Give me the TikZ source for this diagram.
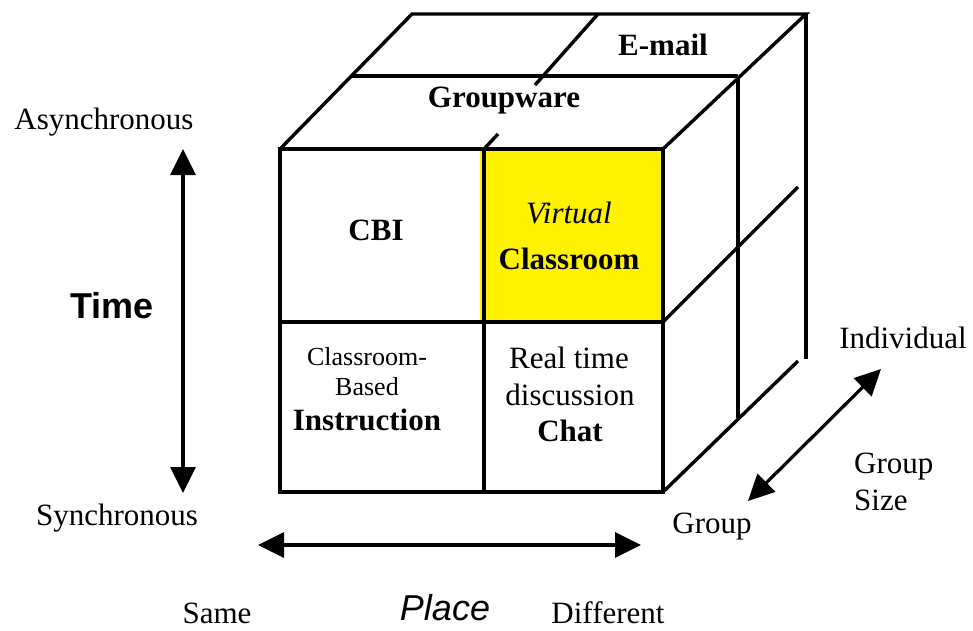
\documentclass[tikz,border=0pt]{standalone}
\usepackage{fontspec}
\setmainfont{Liberation Serif}
\newfontfamily\arialfont{Liberation Sans}
\usetikzlibrary{arrows.meta}
\begin{document}
\begin{tikzpicture}[x=1pt,y=-1pt,
  cubeline/.style={line width=3.4pt},
  axisarrow/.style={line width=3.2pt, {Triangle[length=26pt,width=25pt]}-{Triangle[length=26pt,width=25pt]}},
  lbl/.style={inner sep=0pt, anchor=base, font=\fontsize{31}{34}\selectfont},
  small/.style={inner sep=0pt, anchor=base, font=\fontsize{26}{28}\selectfont},
  axisname/.style={inner sep=0pt, anchor=base, font=\arialfont\fontsize{36}{40}\selectfont}]
\useasboundingbox (0,0) rectangle (973,630);
% corners
\coordinate (F1) at (280,149);
\coordinate (F2) at (663,149);
\coordinate (F3) at (663,492);
\coordinate (F4) at (280,492);
\coordinate (FMt) at (484,149);
\coordinate (FMb) at (484,492);
\coordinate (ML) at (280,322);
\coordinate (MR) at (663,322);
\coordinate (B1) at (412,14);
\coordinate (B2) at (806,14);
\coordinate (B3) at (806,359);
\coordinate (T1) at (351,76);
\coordinate (T2) at (738,76);
\coordinate (C1) at (598,14);
\coordinate (C2) at (535,85);
\coordinate (C3) at (498,134);
\coordinate (V1) at (738,418);
\coordinate (D1) at (798,187);
\coordinate (D2) at (798,361);
% yellow cell
\fill[yellow] (480,149) rectangle (MR);
% front face
\draw[cubeline] (F1) rectangle (F3);
\draw[cubeline] (FMt) -- (FMb);
\draw[cubeline] (ML) -- (MR);
% top face
\draw[cubeline] (F1) -- (B1) -- (B2) -- (F2);
\draw[cubeline] (T1) -- (T2);
\draw[cubeline] (C1) -- (C2);
\draw[cubeline] (C3) -- (FMt);
% right face
\draw[cubeline] (B2) -- (B3);
\draw[cubeline] (T2) -- (V1);
\draw[cubeline] (MR) -- (D1);
\draw[cubeline] (F3) -- (D2);
% cell texts
\node[lbl] (email) at (663,55) {\bfseries E-mail};
\node[lbl] (groupware) at (504,107) {\bfseries Groupware};
\node[lbl] (cbi) at (376,240) {\bfseries CBI};
\node[lbl] (virtual) at (569,223) {\itshape Virtual};
\node[lbl] (vclass) at (569,269) {\bfseries Classroom};
\node[small] (cbased1) at (367,365) {Classroom-};
\node[small] (cbased2) at (367,395) {Based};
\node[lbl] (instr) at (367,430) {\bfseries Instruction};
\node[lbl] (rt1) at (569,368) {Real time};
\node[lbl] (rt2) at (570,405) {discussion};
\node[lbl] (chat) at (570,441) {\bfseries Chat};
% time axis
\node[lbl] (async) at (104,129) {Asynchronous};
\node[lbl] (sync) at (117,525) {Synchronous};
\node[axisname] (time) at (112,318) {\bfseries Time};
\coordinate (Ttop) at (183,149);
\coordinate (Tbot) at (183,493);
\draw[axisarrow] (Ttop) -- (Tbot);
% place axis
\coordinate (Pl) at (258,545);
\coordinate (Pr) at (641,545);
\draw[axisarrow] (Pl) -- (Pr);
\node[lbl] (same) at (217,623) {Same};
\node[axisname] (place) at (445,620) {\itshape Place};
\node[lbl] (diff) at (608,623) {Different};
% group axis
\coordinate (Gl) at (748,501);
\coordinate (Gu) at (881,369);
\draw[axisarrow] (Gl) -- (Gu);
\node[lbl] (indiv) at (903,348) {Individual};
\node[lbl] (group) at (712,533) {Group};
\node[lbl, anchor=base west] (gs1) at (854,473) {Group};
\node[lbl, anchor=base west] (gs2) at (854,510) {Size};
\end{tikzpicture}
\end{document}
